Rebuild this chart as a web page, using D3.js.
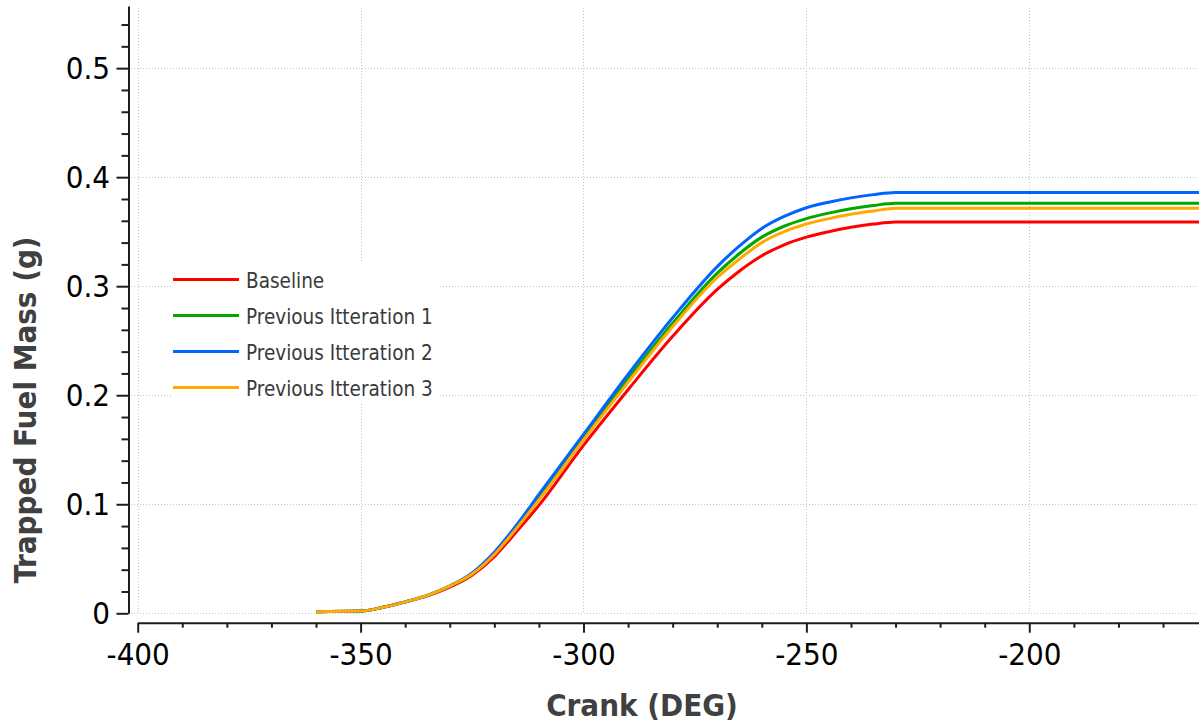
<!DOCTYPE html>
<html>
<head>
<meta charset="utf-8">
<script src="https://cdn.jsdelivr.net/npm/d3@7"></script>
<style>
  html, body { margin: 0; padding: 0; background: #fff; }
  svg { display: block; font-family: "DejaVu Sans Condensed", "DejaVu Sans", sans-serif; }
</style>
</head>
<body>
<div id="chart"></div>
<script>
// crank angle (deg) sample points
const crank = [-360, -350, -345, -340, -335, -330, -325, -320, -315, -310, -300, -290, -280, -270, -265, -260, -255, -250, -245, -240, -235, -230, -160];

// trapped fuel mass (g) per series
const baseline = [0.0015, 0.002, 0.0055, 0.0105, 0.016, 0.024, 0.035, 0.052, 0.075, 0.099, 0.154, 0.205, 0.254, 0.297, 0.314, 0.328, 0.338, 0.345, 0.350, 0.354, 0.357, 0.359, 0.359];
const iter1    = [0.0015, 0.002, 0.0055, 0.0105, 0.0165, 0.025, 0.036, 0.055, 0.079, 0.106, 0.161, 0.215, 0.266, 0.312, 0.330, 0.345, 0.355, 0.362, 0.367, 0.371, 0.374, 0.376, 0.376];
const iter2    = [0.0015, 0.002, 0.0055, 0.0105, 0.0165, 0.025, 0.037, 0.056, 0.081, 0.109, 0.164, 0.219, 0.271, 0.318, 0.337, 0.353, 0.364, 0.372, 0.377, 0.381, 0.384, 0.386, 0.386];
const iter3    = [0.0015, 0.002, 0.0055, 0.0105, 0.0165, 0.025, 0.036, 0.054, 0.078, 0.104, 0.159, 0.212, 0.263, 0.308, 0.325, 0.340, 0.350, 0.357, 0.362, 0.366, 0.369, 0.3716, 0.3716];

const seriesNames = ['Baseline', 'Previous Itteration 1', 'Previous Itteration 2', 'Previous Itteration 3'];
const seriesColors = ['#ff0000', '#00a800', '#0064ff', '#ffaa00'];

const xTicks = [-400, -350, -300, -250, -200];
const xMinor = [-390, -380, -370, -360, -340, -330, -320, -310, -290, -280, -270, -260, -240, -230, -220, -210, -190, -180, -170];
const yTicks = [0, 0.1, 0.2, 0.3, 0.4, 0.5];
const yTickLabels = ['0', '0.1', '0.2', '0.3', '0.4', '0.5'];
const yMinor = [0.02, 0.04, 0.06, 0.08, 0.12, 0.14, 0.16, 0.18, 0.22, 0.24, 0.26, 0.28, 0.32, 0.34, 0.36, 0.38, 0.42, 0.44, 0.46, 0.48, 0.52, 0.54];

const width = 1199;
const height = 723;
const plot = {left: 137.7, right: 1199, top: 6, bottom: 613.3};
const yAxisX = 128.5;
const xAxisY = 622.7;
const fontFamily = '"DejaVu Sans Condensed", "DejaVu Sans", sans-serif';

const x = d3.scaleLinear()
    .domain([-400, -161.93])
    .range([plot.left, plot.right]);

const y = d3.scaleLinear()
    .domain([0, 0.557])
    .range([plot.bottom, plot.top]);

const svg = d3.select('#chart')
    .append('svg')
    .attr('width', width)
    .attr('height', height);

// grid
const grid = svg.append('g')
    .attr('stroke', '#c4c4c4')
    .attr('stroke-width', 1)
    .attr('stroke-dasharray', '1,2');

grid.selectAll('.hgrid')
    .data(yTicks)
    .enter().append('line')
    .attr('x1', 131)
    .attr('x2', plot.right)
    .attr('y1', d => Math.round(y(d)) + 0.5)
    .attr('y2', d => Math.round(y(d)) + 0.5);

grid.selectAll('.vgrid')
    .data(xTicks)
    .enter().append('line')
    .attr('x1', d => Math.round(x(d)) + 0.5)
    .attr('x2', d => Math.round(x(d)) + 0.5)
    .attr('y1', plot.top + 2)
    .attr('y2', plot.bottom);

// curves
svg.append('clipPath')
    .attr('id', 'clip')
    .append('rect')
    .attr('x', plot.left)
    .attr('y', plot.top)
    .attr('width', plot.right - plot.left)
    .attr('height', plot.bottom - plot.top + 4);

const line = d3.line()
    .x(d => x(d[0]))
    .y(d => y(d[1]))
    .curve(d3.curveMonotoneX);

const allSeries = [baseline, iter1, iter2, iter3];

svg.append('g')
    .attr('clip-path', 'url(#clip)')
    .selectAll('path')
    .data(allSeries)
    .enter().append('path')
    .attr('d', vals => line(crank.map((c, i) => [c, vals[i]])))
    .attr('fill', 'none')
    .attr('stroke', (d, i) => seriesColors[i])
    .attr('stroke-width', 3);

// axes
function styleAxis(g) {
  g.attr('font-family', fontFamily);
  g.select('.domain').attr('stroke', '#1e1e1e').attr('stroke-width', 2);
  g.selectAll('.tick line').attr('stroke', '#1e1e1e').attr('stroke-width', 2);
  g.selectAll('.tick text')
      .attr('fill', '#000')
      .style('font-family', fontFamily)
      .style('font-size', '31px');
}

svg.append('g')
    .attr('transform', `translate(${yAxisX},0)`)
    .call(d3.axisLeft(y).tickValues(yMinor).tickSize(7).tickSizeOuter(0).tickFormat(''))
    .call(styleAxis);

svg.append('g')
    .attr('transform', `translate(${yAxisX},0)`)
    .call(d3.axisLeft(y).tickValues(yTicks).tickSize(12).tickSizeOuter(0).tickPadding(6.5)
        .tickFormat((d, i) => yTickLabels[i]))
    .call(styleAxis)
    .call(g => g.select('.domain').remove());

svg.append('g')
    .attr('transform', `translate(0,${xAxisY})`)
    .call(d3.axisBottom(x).tickValues(xMinor).tickSize(5).tickSizeOuter(0).tickFormat(''))
    .call(styleAxis);

svg.append('g')
    .attr('transform', `translate(0,${xAxisY})`)
    .call(d3.axisBottom(x).tickValues(xTicks).tickSize(10).tickSizeOuter(0).tickPadding(10)
        .tickFormat(d => String(d)))
    .call(styleAxis)
    .call(g => g.select('.domain').remove());

// axis titles
svg.append('text')
    .attr('x', 642)
    .attr('y', 716)
    .attr('text-anchor', 'middle')
    .attr('fill', '#404040')
    .style('font-size', '31px')
    .style('font-weight', 'bold')
    .text('Crank (DEG)');

svg.append('text')
    .attr('transform', 'translate(35.5,410) rotate(-90)')
    .attr('text-anchor', 'middle')
    .attr('fill', '#404040')
    .style('font-size', '31px')
    .style('font-weight', 'bold')
    .text('Trapped Fuel Mass (g)');

// legend
const legend = svg.append('g');

legend.append('rect')
    .attr('x', 172)
    .attr('y', 263)
    .attr('width', 266)
    .attr('height', 140)
    .attr('fill', '#fff');

const items = legend.selectAll('.item')
    .data(seriesNames)
    .enter().append('g')
    .attr('transform', (d, i) => `translate(0,${279.5 + i * 36})`);

items.append('line')
    .attr('x1', 173)
    .attr('x2', 239)
    .attr('stroke', (d, i) => seriesColors[i])
    .attr('stroke-width', 3);

items.append('text')
    .attr('x', 246)
    .attr('y', 8.5)
    .attr('fill', '#3a3a3a')
    .style('font-size', '20.5px')
    .text(d => d);
</script>
</body>
</html>
